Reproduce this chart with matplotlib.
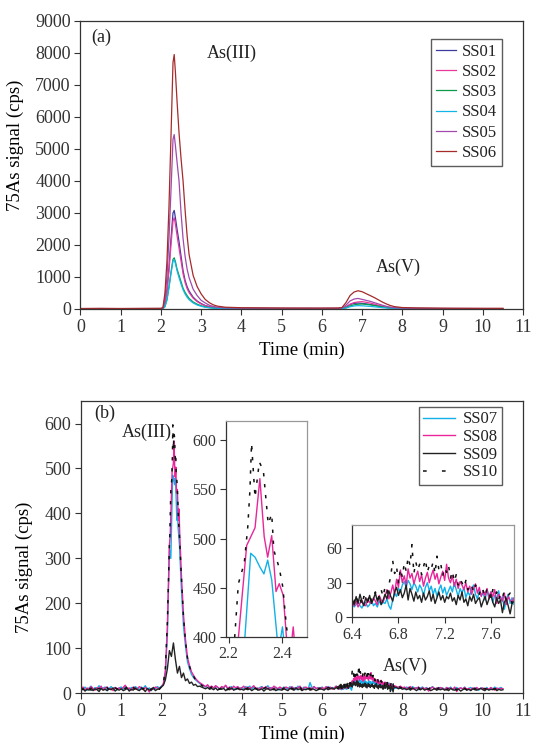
import numpy as np
import matplotlib
matplotlib.use("Agg")
import matplotlib.pyplot as plt
from matplotlib.lines import Line2D

plt.rcParams["font.family"] = ["Liberation Serif", "DejaVu Serif"]
plt.rcParams["text.color"] = "#222222"

# ---------------- panel (a): As speciation, samples SS01-SS06 ----------------
t_a = [0.0, 0.5, 1.0, 1.5, 2.0, 2.05, 2.1, 2.15, 2.2, 2.25, 2.3, 2.33, 2.36, 2.4, 2.45,
       2.5, 2.55, 2.6, 2.65, 2.7, 2.8, 2.9, 3.0, 3.1, 3.2, 3.3, 3.4, 3.6, 4.0, 5.0, 6.0,
       6.4, 6.5, 6.6, 6.7, 6.8, 6.9, 7.0, 7.1, 7.2, 7.3, 7.4, 7.5, 7.6, 7.7, 7.8, 8.0,
       8.3, 9.0, 10.0, 10.5]
ss01 = [10, 12, 10, 11, 12, 20, 200, 600, 1300, 2200, 3000, 3080, 2850, 2500, 2100,
        1650, 1200, 900, 700, 560, 370, 250, 170, 110, 75, 50, 35, 25, 18, 15, 14,
        15, 20, 70, 140, 175, 185, 175, 160, 140, 120, 95, 70, 50, 35, 25, 18,
        14, 12, 10, 10]
ss02 = [10, 11, 10, 12, 12, 18, 180, 550, 1200, 2000, 2750, 2850, 2650, 2300, 1900,
        1500, 1100, 830, 640, 510, 340, 230, 155, 100, 70, 48, 33, 24, 17, 14, 13,
        14, 18, 60, 150, 200, 220, 230, 210, 185, 155, 120, 90, 65, 45, 30, 20,
        15, 12, 10, 10]
ss03 = [8, 9, 8, 9, 10, 12, 80, 300, 700, 1150, 1550, 1600, 1480, 1250, 1050,
        850, 650, 520, 420, 330, 220, 150, 100, 65, 45, 32, 24, 18, 14, 12, 11,
        12, 14, 40, 95, 130, 150, 155, 145, 130, 110, 88, 65, 48, 34, 24, 16,
        12, 10, 9, 9]
ss04 = [8, 9, 8, 9, 9, 11, 70, 280, 660, 1100, 1500, 1540, 1420, 1200, 980,
        780, 600, 470, 370, 290, 190, 125, 85, 55, 38, 27, 20, 15, 12, 10, 9,
        10, 12, 30, 70, 95, 105, 100, 92, 82, 70, 56, 42, 32, 24, 18, 13,
        10, 9, 8, 8]
ss05 = [12, 15, 12, 14, 15, 30, 350, 1000, 2200, 3700, 5300, 5450, 5100, 4600, 4000,
        3000, 2200, 1650, 1250, 980, 620, 420, 270, 190, 120, 80, 55, 35, 25, 20, 20,
        22, 30, 120, 250, 310, 330, 300, 270, 240, 200, 160, 120, 85, 60, 40, 28,
        22, 18, 15, 15]
ss06 = [15, 18, 15, 18, 20, 40, 500, 1500, 3200, 5400, 7700, 7950, 7400, 6500, 5500,
        4700, 4000, 3100, 2300, 1700, 1050, 700, 470, 300, 200, 130, 90, 55, 40, 30, 28,
        30, 45, 200, 420, 530, 570, 540, 480, 420, 360, 290, 220, 160, 110, 75, 45,
        35, 25, 20, 20]
names_a = ["SS01", "SS02", "SS03", "SS04", "SS05", "SS06"]
colors_a = ["#3b3ba0", "#e8399b", "#0a9a4a", "#12b6e6", "#a04aac", "#a52a2a"]

# ---------------- panel (b): samples SS07-SS10 ----------------
# traces every 0.05 min from 0 to 10.5 min (one row = 1 min)
ss07_b = [15, 9, 14, 7, 12, 16, 8, 13, 10, 17, 9, 12, 14, 6, 11, 15, 10, 13, 8, 12,
          14, 9, 16, 11, 7, 13, 10, 15, 12, 8, 14, 11, 17, 9, 12, 6, 13, 10, 15, 12,
          16, 20, 45, 130, 320, 455, 480, 470, 390, 330, 230, 150, 105, 70, 55, 42, 35, 30, 26, 22,
          20, 17, 14, 18, 12, 15, 11, 16, 13, 9, 14, 12, 17, 10, 13, 15, 8, 12, 14, 11,
          13, 10, 15, 12, 16, 9, 14, 11, 8, 13, 15, 10, 12, 17, 9, 13, 11, 14, 7, 12,
          10, 14, 12, 9, 15, 11, 13, 8, 16, 12, 10, 14, 11, 9, 24, 12, 15, 10, 13, 11,
          14, 9, 12, 15, 10, 13, 11, 16, 12, 14, 12, 10, 14, 13, 17, 20, 27, 30, 31, 28,
          26, 24, 28, 22, 25, 20, 23, 19, 21, 17, 20, 16, 18, 14, 17, 13, 15, 12, 14, 11,
          13, 10, 14, 12, 9, 15, 11, 13, 8, 12, 14, 10, 13, 9, 12, 15, 10, 8, 13, 11,
          12, 9, 13, 10, 14, 8, 11, 13, 9, 12, 10, 14, 8, 11, 13, 9, 12, 10, 7, 12,
          11, 9, 13, 8, 12, 10, 14, 9, 11, 13, 10]
ss08_b = [10, 14, 6, 12, 9, 15, 11, 7, 13, 10, 16, 8, 12, 14, 9, 11, 6, 13, 10, 12,
          9, 13, 18, 10, 12, 7, 14, 11, 9, 15, 12, 8, 13, 10, 3, 11, 9, 14, 12, 10,
          14, 22, 50, 150, 330, 470, 520, 490, 440, 370, 260, 175, 120, 80, 62, 48, 40, 33, 28, 24,
          21, 18, 15, 19, 13, 16, 12, 17, 14, 10, 15, 13, 18, 11, 14, 9, 16, 12, 15, 10,
          12, 16, 9, 14, 11, 13, 17, 10, 12, 8, 14, 11, 15, 9, 13, 10, 16, 12, 11, 14,
          11, 9, 14, 12, 10, 15, 8, 13, 11, 16, 9, 12, 14, 10, 13, 8, 15, 11, 12, 9,
          13, 10, 15, 11, 14, 9, 12, 16, 10, 13, 14, 12, 16, 15, 19, 24, 30, 34, 38, 36,
          40, 35, 38, 33, 42, 30, 28, 26, 24, 22, 20, 21, 18, 19, 16, 17, 14, 15, 13, 16,
          12, 14, 10, 13, 15, 9, 12, 11, 14, 8, 13, 10, 12, 5, 11, 14, 9, 12, 10, 13,
          11, 8, 13, 10, 12, 9, 14, 4, 11, 12, 10, 13, 9, 11, 8, 12, 10, 13, 9, 11,
          12, 8, 11, 9, 13, 10, 7, 12, 9, 11, 10]
ss09_b = [8, 11, 5, 9, 7, 12, 6, 10, 8, 4, 11, 7, 9, 6, 10, 8, 12, 5, 9, 7,
          10, 6, 8, 11, 5, 9, 7, 12, 8, 6, 10, 9, 4, 11, 7, 8, 13, 6, 9, 10,
          14, 18, 30, 55, 95, 82, 112, 75, 45, 60, 35, 45, 28, 32, 22, 25, 18, 20, 15, 16,
          14, 12, 10, 13, 9, 11, 8, 12, 7, 10, 9, 11, 6, 10, 8, 12, 7, 9, 11, 8,
          9, 7, 11, 8, 10, 6, 9, 12, 7, 8, 10, 5, 9, 11, 7, 8, 10, 6, 9, 8,
          7, 10, 8, 6, 11, 9, 7, 12, 8, 10, 6, 9, 8, 11, 7, 10, 9, 6, 8, 10,
          9, 7, 11, 8, 10, 12, 9, 13, 11, 10, 14, 12, 15, 13, 18, 16, 20, 22, 19, 24,
          21, 18, 23, 17, 20, 19, 16, 18, 15, 17, 14, 16, 13, 15, 12, 14, 11, 13, 10, 12,
          9, 11, 8, 10, 7, 12, 9, 6, 10, 8, 11, 7, 9, 10, 6, 8, 11, 7, 9, 8,
          10, 7, 9, 6, 11, 8, 7, 10, 9, 5, 8, 11, 7, 9, 6, 10, 8, 7, 9, 11,
          8, 6, 10, 7, 9, 8, 11, 6, 9, 7, 8]
ss10_b = [11, 8, 13, 9, 12, 7, 10, 14, 9, 11, 8, 12, 10, 13, 7, 11, 9, 12, 10, 8,
          12, 9, 11, 14, 8, 10, 13, 9, 11, 7, 12, 10, 14, 9, 11, 8, 13, 10, 12, 9,
          15, 22, 55, 160, 330, 470, 540, 520, 450, 360, 255, 170, 115, 78, 60, 45, 38, 30, 26, 21,
          18, 15, 13, 16, 11, 14, 12, 10, 13, 9, 12, 11, 14, 8, 12, 10, 13, 9, 11, 10,
          10, 13, 9, 12, 8, 11, 14, 10, 9, 12, 7, 11, 13, 9, 10, 12, 8, 11, 10, 13,
          9, 12, 10, 8, 13, 11, 9, 12, 10, 14, 8, 11, 9, 12, 10, 7, 13, 11, 9, 12,
          10, 12, 9, 13, 11, 10, 14, 12, 11, 15, 13, 16, 14, 18, 20, 26, 32, 45, 40, 50,
          44, 38, 46, 35, 40, 32, 34, 28, 30, 25, 27, 22, 24, 20, 21, 17, 18, 15, 16, 13,
          12, 14, 10, 13, 11, 9, 12, 10, 13, 8, 11, 12, 9, 10, 13, 8, 11, 10, 12, 9,
          10, 12, 8, 11, 9, 13, 10, 7, 12, 9, 11, 10, 8, 12, 9, 10, 11, 8, 10, 12,
          9, 11, 8, 10, 12, 9, 10, 8, 11, 9, 10]
STEP_B = 0.05  # min between the points above

# As(III) apex
t3_07 = [2.235, 2.282, 2.298, 2.316, 2.331, 2.345, 2.360, 2.385, 2.400, 2.415]
y3_07 = [300, 485, 481, 471, 464, 478, 458, 385, 410, 370]
t3_08 = [2.220, 2.267, 2.298, 2.316, 2.332, 2.345, 2.360, 2.376, 2.388, 2.403, 2.416, 2.430, 2.440, 2.455]
y3_08 = [350, 493, 511, 561, 502, 481, 503, 446, 454, 442, 395, 385, 410, 360]
t3_10 = [2.210, 2.236, 2.258, 2.271, 2.279, 2.285, 2.298, 2.314, 2.329, 2.347, 2.360, 2.368,
         2.388, 2.401, 2.415, 2.430, 2.450]
y3_10 = [350, 454, 475, 512, 549, 597, 542, 578, 569, 515, 525, 488, 470, 451, 410, 380, 350]

# As(V) region 6.4-7.8 min, one point per second (right inset)
T5_START, T5_STEP = 6.4, 1 / 60
y5_07 = [12, 9, 11, 14, 10, 8, 12, 13, 9, 11, 15, 10, 12, 9, 14, 11, 13,
         12, 16, 10, 7, 15, 21, 18, 25, 22, 28, 31, 26, 32, 29, 24, 30, 27,
         22, 28, 25, 19, 26, 30, 23, 27, 20, 25, 18, 24, 28, 21, 26, 19, 23,
         27, 22, 30, 24, 18, 25, 21, 26, 17, 22, 19, 24, 28, 20, 16, 23, 19,
         21, 15, 24, 18, 22, 13, 19, 16, 23, 14, 18, 7, 15, 20, 12, 17, 11]
y5_08 = [13, 10, 14, 9, 12, 15, 11, 10, 16, 13, 12, 17, 14, 11, 19, 15, 13,
         18, 24, 16, 21, 28, 20, 33, 26, 41, 30, 36, 28, 42, 34, 38, 29, 35,
         40, 31, 37, 27, 34, 39, 30, 36, 41, 33, 38, 29, 35, 40, 32, 46, 34,
         30, 36, 27, 33, 25, 31, 28, 24, 30, 22, 27, 20, 25, 29, 21, 26, 18,
         23, 19, 25, 16, 22, 18, 24, 12, 20, 17, 14, 21, 11, 18, 15, 13, 17]
y5_09 = [15, 11, 18, 12, 20, 14, 10, 17, 13, 19, 12, 16, 21, 14, 18, 11, 15,
         20, 16, 23, 18, 14, 22, 26, 19, 24, 17, 21, 28, 15, 25, 20, 14, 22,
         16, 19, 13, 21, 15, 18, 23, 14, 20, 12, 17, 22, 15, 19, 13, 18, 16,
         21, 14, 17, 11, 19, 15, 22, 13, 16, 10, 18, 14, 20, 12, 15, 17, 9,
         14, 18, 11, 16, 20, 13, 9, 17, 12, 15, 4, 13, 16, 10, 3, 12, 14]
y5_10 = [10, 14, 19, 12, 16, 11, 18, 15, 13, 20, 14, 17, 22, 15, 19, 24, 18,
         26, 21, 28, 36, 49, 38, 44, 30, 42, 35, 47, 40, 52, 45, 63, 38, 48,
         41, 46, 37, 44, 50, 39, 45, 42, 48, 38, 53, 41, 46, 36, 43, 39, 45,
         34, 40, 31, 37, 28, 33, 30, 26, 32, 24, 29, 27, 22, 28, 25, 20, 26,
         23, 18, 25, 21, 16, 24, 19, 22, 15, 20, 17, 23, 14, 19, 21, 12, 16]


def join(tc, yc, tf, yf):
    tc, yc, tf, yf = map(np.asarray, (tc, yc, tf, yf))
    keep = (tc < tf[0] - 1e-9) | (tc > tf[-1] + 1e-9)
    t = np.concatenate([tc[keep], tf])
    y = np.concatenate([yc[keep], yf])
    o = np.argsort(t, kind="stable")
    return t[o], y[o]


def trace(coarse, t3, y3, y5):
    t = np.arange(len(coarse)) * STEP_B
    t5 = T5_START + np.arange(len(y5)) * T5_STEP
    t, y = join(t, coarse, t5, y5)
    if t3:
        t, y = join(t, y, t3, y3)
    return t, y


traces_b = [
    ("SS07", trace(ss07_b, t3_07, y3_07, y5_07), dict(color="#12b0e8", lw=1.0)),
    ("SS08", trace(ss08_b, t3_08, y3_08, y5_08), dict(color="#e8269a", lw=1.0)),
    ("SS09", trace(ss09_b, [], [], y5_09), dict(color="#222222", lw=1.0)),
    ("SS10", trace(ss10_b, t3_10, y3_10, y5_10), dict(color="#111111", lw=1.1, ls=(0, (2.2, 5.0)))),
]

fig = plt.figure(figsize=(5.34, 7.46), dpi=100)
DARK = "#333333"


def style(ax, size=13, grey_top_right=False):
    ax.tick_params(direction="out", length=4, width=0.8, colors=DARK, labelsize=size, pad=3)
    for k, s in ax.spines.items():
        s.set_linewidth(0.9)
        s.set_color("#999999" if grey_top_right and k in ("top", "right") else DARK)


# ---- (a)
ax = fig.add_axes([0.1507, 0.5858, 0.8287, 0.3861])
for n, y, c in zip(names_a, [ss01, ss02, ss03, ss04, ss05, ss06], colors_a):
    ax.plot(t_a, y, color=c, lw=0.9, label=n)
ax.set_xlim(0, 11); ax.set_ylim(0, 9000)
ax.set_xticks(range(12)); ax.set_yticks(range(0, 9001, 1000))
style(ax)
ax.set_xlabel("Time (min)", fontsize=13.5, labelpad=4)
ax.set_ylabel("75As signal (cps)", fontsize=13.5)
ax.yaxis.set_label_coords(-0.128, 0.57)
ax.text(0.046, 0.943, "(a)", transform=ax.transAxes, fontsize=13, ha="center", va="center")
ax.text(3.76, 8000, "As(III)", fontsize=13, ha="center", va="center")
ax.text(7.89, 1310, "As(V)", fontsize=13, ha="center", va="center")
leg = ax.legend(loc="upper right", bbox_to_anchor=(0.952, 0.9375), fontsize=12,
                frameon=True, fancybox=False, edgecolor=DARK, handlelength=1.2,
                handletextpad=0.35, labelspacing=0.25, borderpad=0.3, borderaxespad=0)
leg.get_frame().set_linewidth(1.0)

# ---- (b)
bx = fig.add_axes([0.1517, 0.0706, 0.8277, 0.3918])
for n, (t, y), kw in traces_b:
    bx.plot(t, y, **kw)
bx.set_xlim(0, 11); bx.set_ylim(0, 650)
bx.set_xticks(range(12)); bx.set_yticks(range(0, 601, 100))
style(bx)
bx.set_xlabel("Time (min)", fontsize=13.5, labelpad=4)
bx.set_ylabel("75As signal (cps)", fontsize=13.5)
bx.yaxis.set_label_coords(-0.108, 0.43)
bx.text(0.054, 0.959, "(b)", transform=bx.transAxes, fontsize=13, ha="center", va="center")
bx.text(1.65, 580, "As(III)", fontsize=13, ha="center", va="center")
bx.text(8.06, 60, "As(V)", fontsize=13, ha="center", va="center")
# legend keys: same colours, SS10 key drawn with the wide-gap dash of the original
keys = []
for n, _, kw in traces_b:
    kk = dict(kw)
    if n == "SS10":
        kk["ls"] = (0, (2.4, 10.0))
    keys.append(Line2D([], [], **kk))
leg = bx.legend(keys, [n for n, _, _ in traces_b], loc="upper right",
                bbox_to_anchor=(0.952, 0.979), fontsize=12,
                frameon=True, fancybox=False, edgecolor=DARK, handlelength=1.9,
                handletextpad=0.45, labelspacing=0.1, borderpad=0.25, borderaxespad=0)
leg.get_frame().set_linewidth(1.0)

# insets
i1 = fig.add_axes([0.4232, 0.1465, 0.1511, 0.2895])
i2 = fig.add_axes([0.6597, 0.1725, 0.3028, 0.1237])
for n, (t, y), kw in traces_b:
    i1.plot(t, y, **kw)
    i2.plot(t, y, **kw)
i1.set_xlim(2.19, 2.49); i1.set_ylim(400, 620)
i1.set_xticks([2.2, 2.4]); i1.set_yticks(range(400, 601, 50))
i2.set_xlim(6.4, 7.8); i2.set_ylim(0, 80)
i2.set_xticks([6.4, 6.8, 7.2, 7.6]); i2.set_yticks([0, 30, 60])
style(i1, 11.5, True)
style(i2, 11.5, True)
i1.xaxis.set_major_formatter(matplotlib.ticker.FormatStrFormatter("%.1f"))
i2.xaxis.set_major_formatter(matplotlib.ticker.FormatStrFormatter("%.1f"))

fig.savefig("out.png", dpi=100)
